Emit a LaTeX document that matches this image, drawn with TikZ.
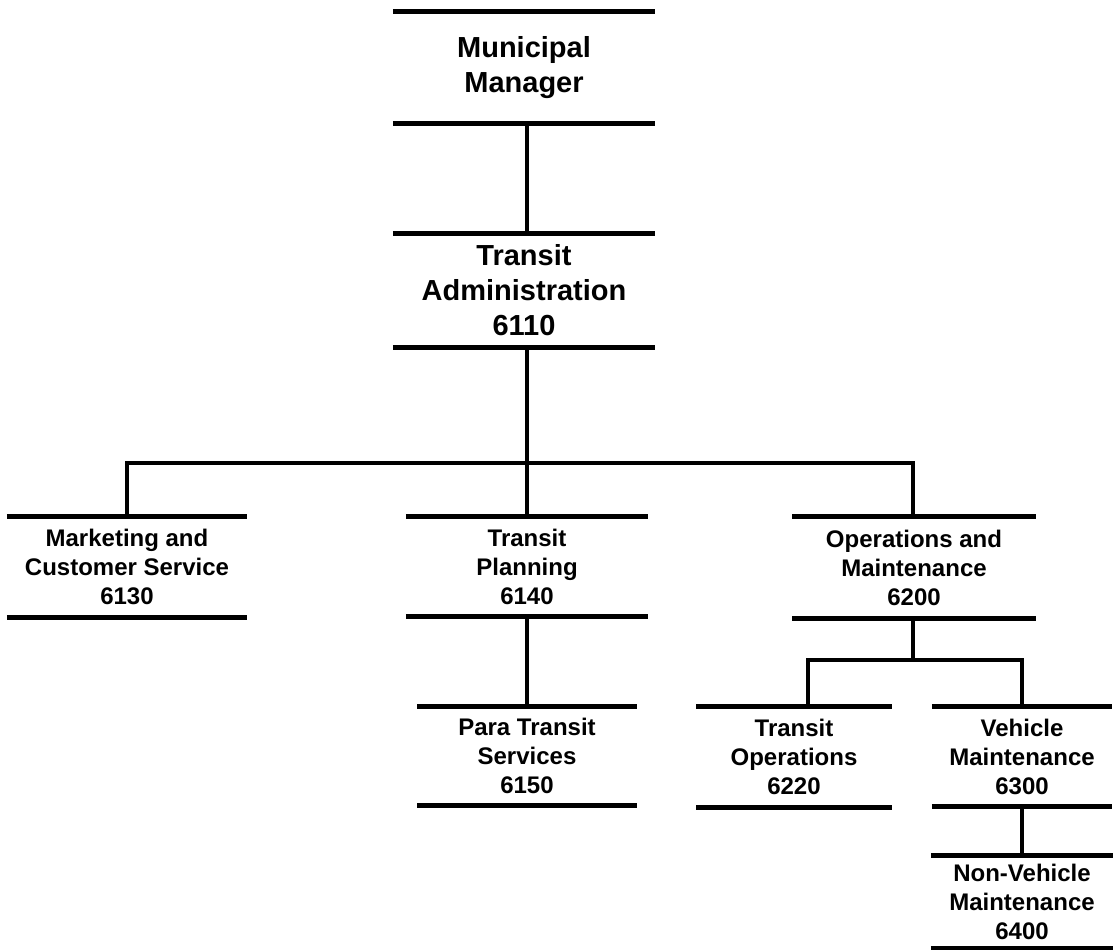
\documentclass[tikz,border=0pt]{standalone}
\usepackage{fontspec}
\setmainfont{Liberation Sans}
\begin{document}
\begin{tikzpicture}[x=1pt,y=-1pt,
  unit/.style={inner sep=0pt, align=center, font=\bfseries\fontsize{24}{29}\selectfont},
  big/.style={font=\bfseries\fontsize{29}{35}\selectfont},
  bar/.style={line width=5pt},
  conn/.style={line width=4.5pt, line join=miter}]
\useasboundingbox (0,0) rectangle (1117,950);

\node[unit,big,minimum width=262pt,minimum height=111pt] (mm) at (524,67.5) {Municipal\\Manager};
\node[unit,big,minimum width=262pt,minimum height=113pt] (ta) at (524,290.5) {Transit\\Administration\\6110};
\node[unit,minimum width=240pt,minimum height=100pt] (mk) at (127,567) {Marketing and\\Customer Service\\6130};
\node[unit,minimum width=242pt,minimum height=100pt] (tp) at (527,566.5) {Transit\\Planning\\6140};
\node[unit,minimum width=219pt,minimum height=98pt] (pt) at (527,756) {Para Transit\\Services\\6150};
\node[unit,minimum width=243pt,minimum height=101pt] (om) at (914,567.5) {Operations and\\Maintenance\\6200};
\node[unit,minimum width=195pt,minimum height=100pt] (to) at (794,757) {Transit\\Operations\\6220};
\node[unit,minimum width=180pt,minimum height=99pt] (vm) at (1022,756.5) {Vehicle\\Maintenance\\6300};
\node[unit,minimum width=182pt,minimum height=92pt] (nv) at (1022,902) {Non-Vehicle\\Maintenance\\6400};

\foreach \n in {mm,ta,mk,tp,pt,om,to,vm,nv}
  \draw[bar] (\n.north west) -- (\n.north east) (\n.south west) -- (\n.south east);

\coordinate (spine) at (527,0);
\coordinate (bus) at (0,463);
\coordinate (bus2) at (0,660);
\coordinate (ombus) at (913,0);
\coordinate (tol) at (808,0);

\draw[conn] (mm.south -| spine) -- (ta.north -| spine);
\draw[conn] (ta.south -| spine) -- (tp.north -| spine);
\draw[conn] (mk.north) -- (mk.north |- bus) -- (ombus |- bus) -- (om.north -| ombus);
\draw[conn] (tp.south -| spine) -- (pt.north -| spine);
\draw[conn] (om.south -| ombus) -- (ombus |- bus2);
\draw[conn] (to.north -| tol) -- (tol |- bus2) -- (vm.north |- bus2) -- (vm.north);
\draw[conn] (vm.south) -- (nv.north);
\end{tikzpicture}
\end{document}
